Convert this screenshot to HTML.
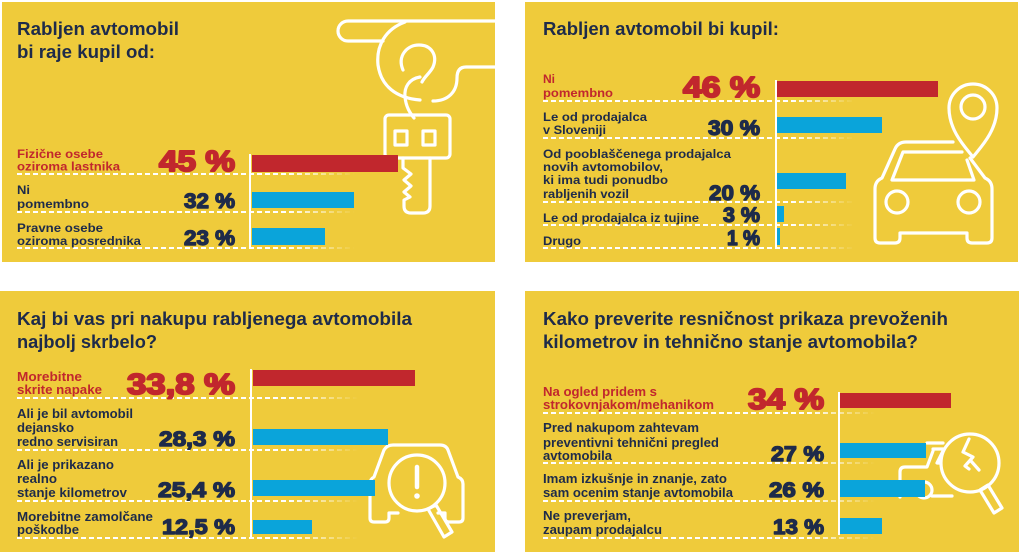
<!DOCTYPE html>
<html><head><meta charset="utf-8">
<style>
html,body{margin:0;padding:0;background:#fff;}
svg{display:block;}
text{font-family:"Liberation Sans",Arial,sans-serif;font-weight:bold;}
.t{font-size:18px;fill:#1E2B4A;}
.l{font-size:12px;fill:#1E2B4A;}
.lr{font-size:12px;fill:#C1272D;}
.l2{font-size:13px;fill:#1E2B4A;}
.lr2{font-size:13px;fill:#C1272D;}
.p{font-size:21.5px;fill:#1E2B4A;stroke:#1E2B4A;stroke-width:1.4;stroke-linejoin:round;}
.pr{font-size:29px;fill:#C1272D;stroke:#C1272D;stroke-width:2;stroke-linejoin:round;}
.ic{fill:none;stroke:#fff;stroke-width:3.2;stroke-linecap:round;stroke-linejoin:round;}
.vl{stroke:#fff;stroke-width:2;}
.red{fill:#C1272D;}
.blue{fill:#0AA4DA;}
</style></head><body>
<svg width="1022" height="555" viewBox="0 0 1022 555" xmlns="http://www.w3.org/2000/svg">
<defs>
<linearGradient id="g1" gradientUnits="userSpaceOnUse" x1="17" y1="0" x2="355" y2="0">
<stop offset="0" stop-color="#fff" stop-opacity="1"/><stop offset="0.8" stop-color="#fff" stop-opacity="1"/><stop offset="1" stop-color="#fff" stop-opacity="0"/></linearGradient>
<linearGradient id="g2" gradientUnits="userSpaceOnUse" x1="543" y1="0" x2="855" y2="0">
<stop offset="0" stop-color="#fff" stop-opacity="1"/><stop offset="0.8" stop-color="#fff" stop-opacity="1"/><stop offset="1" stop-color="#fff" stop-opacity="0"/></linearGradient>
<linearGradient id="g3" gradientUnits="userSpaceOnUse" x1="17" y1="0" x2="358" y2="0">
<stop offset="0" stop-color="#fff" stop-opacity="1"/><stop offset="0.8" stop-color="#fff" stop-opacity="1"/><stop offset="1" stop-color="#fff" stop-opacity="0"/></linearGradient>
<linearGradient id="g4" gradientUnits="userSpaceOnUse" x1="543" y1="0" x2="875" y2="0">
<stop offset="0" stop-color="#fff" stop-opacity="1"/><stop offset="0.8" stop-color="#fff" stop-opacity="1"/><stop offset="1" stop-color="#fff" stop-opacity="0"/></linearGradient>
</defs>
<rect x="0" y="0" width="1022" height="555" fill="#fff"/>

<!-- PANEL 1 -->
<rect x="2" y="2" width="493" height="260" fill="#EFCB3B"/>
<g class="ic">
<path d="M496 21 L348 21 A10 10 0 0 0 348 41 L383 41"/>
<path d="M405 22 C386 29 376 45 378 65 C381 86 396 98 420 100"/>
<path d="M496 67 L466 67 C459 67 457 72 457 78 C457 92 448 101 433 101"/>
<path d="M403 70 C397 56 407 45 419 45 C431 45 438 55 433 67 C430 73 425 76 422 82"/>
<path d="M420 77 C409 79 404 87 405 97 C406 107 410 113 414 118"/>
<rect x="385" y="115" width="65" height="43" rx="4"/>
<rect x="395" y="131" width="12" height="14"/>
<rect x="423" y="131" width="12" height="14"/>
<path d="M403 158 L403 168 L411 174 L404 180 L411 186 L404 192 L410 197 L404 200 L404 206 Q404 213 411 213 L423 213 Q430 213 430 206 L430 158"/>
</g>
<g stroke="url(#g1)" stroke-width="2" stroke-dasharray="5 3" fill="none">
<path d="M17 174 L355 174"/><path d="M17 212 L355 212"/><path d="M17 248 L355 248"/>
</g>
<line class="vl" x1="250" y1="154" x2="250" y2="248"/>
<rect class="red" x="252" y="155" width="146" height="17"/>
<rect class="blue" x="252" y="192" width="102" height="16"/>
<rect class="blue" x="252" y="228" width="73" height="17"/>
<text class="t" x="17" y="35" textLength="162" lengthAdjust="spacingAndGlyphs">Rabljen avtomobil</text>
<text class="t" x="17" y="58" textLength="138" lengthAdjust="spacingAndGlyphs">bi raje kupil od:</text>
<text class="lr" x="17" y="158" textLength="86" lengthAdjust="spacingAndGlyphs">Fizične osebe</text>
<text class="lr" x="17" y="170.5" textLength="103" lengthAdjust="spacingAndGlyphs">oziroma lastnika</text>
<text class="pr" x="159" y="171" textLength="76" lengthAdjust="spacingAndGlyphs">45 %</text>
<text class="l" x="17" y="194" textLength="13" lengthAdjust="spacingAndGlyphs">Ni</text>
<text class="l" x="17" y="208" textLength="72" lengthAdjust="spacingAndGlyphs">pomembno</text>
<text class="p" x="184" y="208" textLength="51" lengthAdjust="spacingAndGlyphs">32 %</text>
<text class="l" x="17" y="232" textLength="86" lengthAdjust="spacingAndGlyphs">Pravne osebe</text>
<text class="l" x="17" y="245" textLength="124" lengthAdjust="spacingAndGlyphs">oziroma posrednika</text>
<text class="p" x="184" y="245" textLength="51" lengthAdjust="spacingAndGlyphs">23 %</text>

<!-- PANEL 2 -->
<rect x="525" y="2" width="493" height="260" fill="#EFCB3B"/>
<g class="ic">
<path d="M973 157 C966 148 949 131 949 108 A24 24 0 0 1 997 108 C997 131 980 148 973 157 Z"/>
<circle cx="973" cy="107" r="12"/>
<path d="M953 142 L906 142 Q898 142 895 149 L882 178 Q875 181 875 189 L875 238 Q875 243 880 243 L895 243 Q900 243 900 238 L900 233 L967 233 L967 238 Q967 243 972 243 L987 243 Q992 243 992 238 L992 189 Q992 181 985 178 L970 158"/>
<path d="M962 152 L903 152 L892 180 L974 180 L967 160"/>
<circle cx="897" cy="202" r="11"/>
<circle cx="969" cy="202" r="11"/>
</g>
<g stroke="url(#g2)" stroke-width="2" stroke-dasharray="5 3" fill="none">
<path d="M543 101 L855 101"/><path d="M543 138 L855 138"/><path d="M543 202 L855 202"/><path d="M543 225 L855 225"/><path d="M543 248 L855 248"/>
</g>
<line class="vl" x1="776" y1="80" x2="776" y2="248"/>
<rect class="red" x="777" y="81" width="161" height="16"/>
<rect class="blue" x="777" y="117" width="105" height="16"/>
<rect class="blue" x="777" y="173" width="69" height="16"/>
<rect class="blue" x="777" y="206" width="7" height="16"/>
<rect class="blue" x="777" y="228" width="3" height="17"/>
<text class="t" x="543" y="35" textLength="236" lengthAdjust="spacingAndGlyphs">Rabljen avtomobil bi kupil:</text>
<text class="lr" x="543" y="83" textLength="12" lengthAdjust="spacingAndGlyphs">Ni</text>
<text class="lr" x="543" y="97" textLength="70" lengthAdjust="spacingAndGlyphs">pomembno</text>
<text class="pr" x="683" y="97" textLength="77" lengthAdjust="spacingAndGlyphs">46 %</text>
<text class="l" x="543" y="121" textLength="104" lengthAdjust="spacingAndGlyphs">Le od prodajalca</text>
<text class="l" x="543" y="134" textLength="63" lengthAdjust="spacingAndGlyphs">v Sloveniji</text>
<text class="p" x="708" y="135" textLength="52" lengthAdjust="spacingAndGlyphs">30 %</text>
<text class="l" x="543" y="158" textLength="188" lengthAdjust="spacingAndGlyphs">Od pooblaščenega prodajalca</text>
<text class="l" x="543" y="171" textLength="120" lengthAdjust="spacingAndGlyphs">novih avtomobilov,</text>
<text class="l" x="543" y="184" textLength="125" lengthAdjust="spacingAndGlyphs">ki ima tudi ponudbo</text>
<text class="l" x="543" y="198" textLength="86" lengthAdjust="spacingAndGlyphs">rabljenih vozil</text>
<text class="p" x="709" y="200" textLength="51" lengthAdjust="spacingAndGlyphs">20 %</text>
<text class="l" x="543" y="222" textLength="156" lengthAdjust="spacingAndGlyphs">Le od prodajalca iz tujine</text>
<text class="p" x="723" y="222" textLength="37" lengthAdjust="spacingAndGlyphs">3 %</text>
<text class="l" x="543" y="245" textLength="38" lengthAdjust="spacingAndGlyphs">Drugo</text>
<text class="p" x="727" y="245" textLength="33" lengthAdjust="spacingAndGlyphs">1 %</text>

<!-- PANEL 3 -->
<rect x="0" y="291" width="495" height="261" fill="#EFCB3B"/>
<g class="ic">
<path d="M398 513 L389 513 L389 518 Q389 522 385 522 L374 522 Q370 522 370 518 L370 484 Q370 479 374 477 L384 450 Q387 445 393 445 L440 445 Q446 445 448 450 L458 477 Q463 479 463 484 L463 518 Q463 522 459 522 L449 522 Q445 522 445 518 L445 513 L438 513"/>
<circle cx="417" cy="483" r="28" fill="#EFCB3B"/>
<path d="M428 509 L436 505 L452 532 L444 537 Z"/>
</g>
<line x1="417" y1="467" x2="417" y2="487" stroke="#fff" stroke-width="4.5" stroke-linecap="round"/>
<circle cx="417" cy="496" r="2.8" fill="#fff"/>
<g stroke="url(#g3)" stroke-width="2" stroke-dasharray="5 3" fill="none">
<path d="M17 398 L358 398"/><path d="M17 450 L358 450"/><path d="M17 501 L358 501"/><path d="M17 538 L358 538"/>
</g>
<line class="vl" x1="251" y1="369" x2="251" y2="537"/>
<rect class="red" x="253" y="370" width="162" height="16"/>
<rect class="blue" x="253" y="429" width="135" height="16"/>
<rect class="blue" x="253" y="480" width="122" height="16"/>
<rect class="blue" x="253" y="520" width="59" height="14"/>
<text class="t" x="17" y="325" textLength="395" lengthAdjust="spacingAndGlyphs">Kaj bi vas pri nakupu rabljenega avtomobila</text>
<text class="t" x="17" y="348" textLength="140" lengthAdjust="spacingAndGlyphs">najbolj skrbelo?</text>
<text class="lr2" x="17" y="381" textLength="65" lengthAdjust="spacingAndGlyphs">Morebitne</text>
<text class="lr2" x="17" y="394" textLength="85" lengthAdjust="spacingAndGlyphs">skrite napake</text>
<text class="pr" x="127" y="394" textLength="108" lengthAdjust="spacingAndGlyphs">33,8 %</text>
<text class="l2" x="17" y="418" textLength="116" lengthAdjust="spacingAndGlyphs">Ali je bil avtomobil</text>
<text class="l2" x="17" y="432" textLength="57" lengthAdjust="spacingAndGlyphs">dejansko</text>
<text class="l2" x="17" y="446" textLength="101" lengthAdjust="spacingAndGlyphs">redno servisiran</text>
<text class="p" x="159" y="446" textLength="76" lengthAdjust="spacingAndGlyphs">28,3 %</text>
<text class="l2" x="17" y="469" textLength="97" lengthAdjust="spacingAndGlyphs">Ali je prikazano</text>
<text class="l2" x="17" y="483" textLength="40" lengthAdjust="spacingAndGlyphs">realno</text>
<text class="l2" x="17" y="497" textLength="110" lengthAdjust="spacingAndGlyphs">stanje kilometrov</text>
<text class="p" x="158" y="497" textLength="77" lengthAdjust="spacingAndGlyphs">25,4 %</text>
<text class="l2" x="17" y="521" textLength="136" lengthAdjust="spacingAndGlyphs">Morebitne zamolčane</text>
<text class="l2" x="17" y="534" textLength="62" lengthAdjust="spacingAndGlyphs">poškodbe</text>
<text class="p" x="162" y="534" textLength="73" lengthAdjust="spacingAndGlyphs">12,5 %</text>

<!-- PANEL 4 -->
<rect x="525" y="291" width="494" height="261" fill="#EFCB3B"/>
<g class="ic">
<path d="M927 443 L943 443"/>
<path d="M933 449 L944 449 L937 463 L948 463"/>
<path d="M900 497 L900 472 Q900 467 905 467 L927 467 L933 451"/>
<circle cx="924" cy="490" r="8"/>
<path d="M932 496 L952 496"/>
<circle cx="970" cy="463" r="29" fill="#EFCB3B"/>
<path d="M980 490 L988 485 L1002 508 L994 513 Z"/>
<path d="M969 439 L963 452 L973 457 L965 466 L969 469"/>
<path d="M971 461 L979 470"/>
</g>
<g stroke="url(#g4)" stroke-width="2" stroke-dasharray="5 3" fill="none">
<path d="M543 413 L875 413"/><path d="M543 463 L875 463"/><path d="M543 501 L875 501"/><path d="M543 538 L875 538"/>
</g>
<line class="vl" x1="839" y1="392" x2="839" y2="535"/>
<rect class="red" x="840" y="393" width="111" height="15"/>
<rect class="blue" x="840" y="443" width="86" height="15"/>
<rect class="blue" x="840" y="480" width="85" height="17"/>
<rect class="blue" x="840" y="518" width="42" height="16"/>
<text class="t" x="543" y="325" textLength="405" lengthAdjust="spacingAndGlyphs">Kako preverite resničnost prikaza prevoženih</text>
<text class="t" x="543" y="348" textLength="375" lengthAdjust="spacingAndGlyphs">kilometrov in tehnično stanje avtomobila?</text>
<text class="lr2" x="543" y="396" textLength="114" lengthAdjust="spacingAndGlyphs">Na ogled pridem s</text>
<text class="lr2" x="543" y="409" textLength="171" lengthAdjust="spacingAndGlyphs">strokovnjakom/mehanikom</text>
<text class="pr" x="748" y="409" textLength="76" lengthAdjust="spacingAndGlyphs">34 %</text>
<text class="l2" x="543" y="432" textLength="156" lengthAdjust="spacingAndGlyphs">Pred nakupom zahtevam</text>
<text class="l2" x="543" y="447" textLength="176" lengthAdjust="spacingAndGlyphs">preventivni tehnični pregled</text>
<text class="l2" x="543" y="460" textLength="69" lengthAdjust="spacingAndGlyphs">avtomobila</text>
<text class="p" x="771" y="461" textLength="53" lengthAdjust="spacingAndGlyphs">27 %</text>
<text class="l2" x="543" y="483" textLength="184" lengthAdjust="spacingAndGlyphs">Imam izkušnje in znanje, zato</text>
<text class="l2" x="543" y="497" textLength="190" lengthAdjust="spacingAndGlyphs">sam ocenim stanje avtomobila</text>
<text class="p" x="769" y="497" textLength="55" lengthAdjust="spacingAndGlyphs">26 %</text>
<text class="l2" x="543" y="520" textLength="88" lengthAdjust="spacingAndGlyphs">Ne preverjam,</text>
<text class="l2" x="543" y="534" textLength="119" lengthAdjust="spacingAndGlyphs">zaupam prodajalcu</text>
<text class="p" x="773" y="534" textLength="51" lengthAdjust="spacingAndGlyphs">13 %</text>
</svg>
</body></html>
